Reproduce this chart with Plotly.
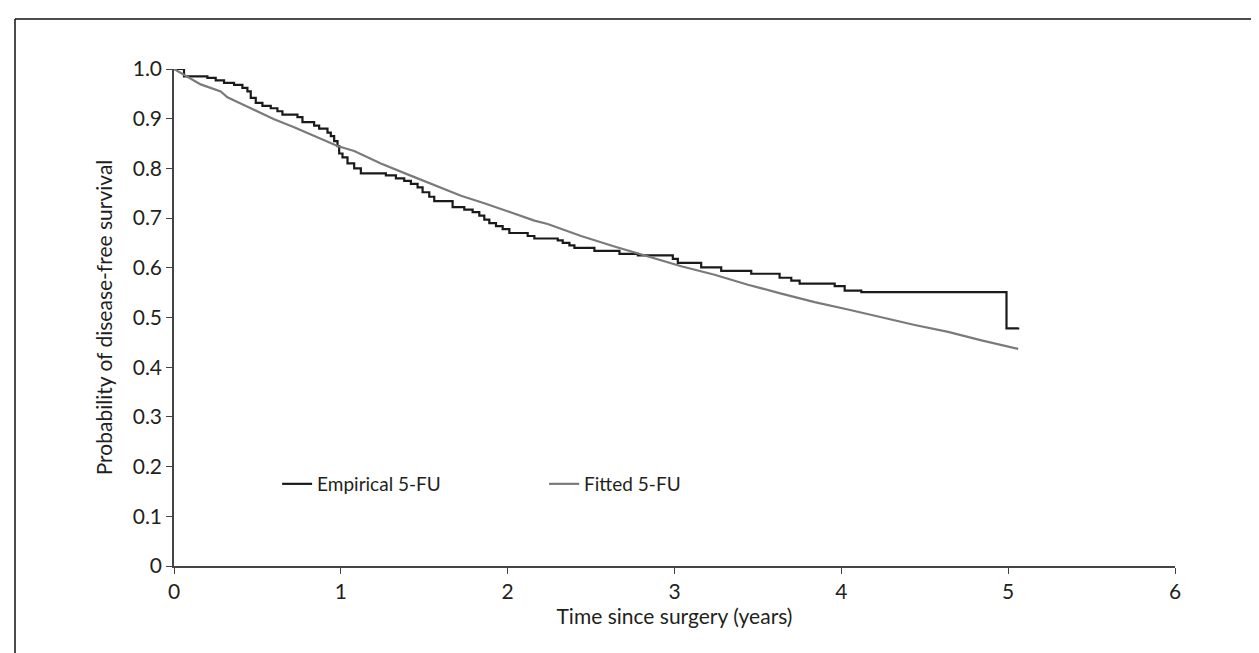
import plotly.graph_objects as go

# Empirical Kaplan-Meier (5-FU): event times (years) and survival after each step
emp_time = [0, 0.06, 0.20, 0.25, 0.30, 0.36, 0.41, 0.44, 0.46, 0.49, 0.53, 0.58, 0.62, 0.65,
            0.74, 0.77, 0.84, 0.87, 0.92, 0.94, 0.96, 0.98, 0.99, 1.01, 1.04, 1.08, 1.12,
            1.27, 1.33, 1.38, 1.42, 1.46, 1.49, 1.53, 1.56, 1.67, 1.74, 1.79, 1.83, 1.86,
            1.89, 1.93, 1.97, 2.01, 2.12, 2.16, 2.30, 2.33, 2.37, 2.40, 2.52, 2.67, 2.78,
            2.99, 3.02, 3.16, 3.28, 3.46, 3.63, 3.70, 3.75, 3.96, 4.02, 4.12, 4.99, 5.06]
emp_surv = [1.0, 0.985, 0.982, 0.977, 0.972, 0.968, 0.962, 0.955, 0.942, 0.932, 0.926, 0.921,
            0.915, 0.908, 0.903, 0.893, 0.886, 0.880, 0.872, 0.865, 0.855, 0.845, 0.830,
            0.822, 0.810, 0.800, 0.790, 0.786, 0.780, 0.775, 0.769, 0.762, 0.752, 0.743,
            0.734, 0.722, 0.717, 0.712, 0.705, 0.697, 0.690, 0.684, 0.678, 0.670, 0.664,
            0.659, 0.655, 0.650, 0.645, 0.640, 0.634, 0.628, 0.625, 0.618, 0.610, 0.601,
            0.594, 0.588, 0.580, 0.574, 0.568, 0.563, 0.554, 0.551, 0.478, 0.480]

# Fitted survival curve (5-FU)
fit_time = [0, 0.08, 0.16, 0.28, 0.32, 0.46, 0.60, 0.72, 0.84, 0.98, 1.08, 1.24, 1.40, 1.56,
            1.72, 1.86, 2.00, 2.16, 2.24, 2.44, 2.64, 2.84, 3.04, 3.24, 3.44, 3.64, 3.84,
            4.04, 4.24, 4.44, 4.64, 4.84, 5.06]
fit_surv = [1.0, 0.984, 0.969, 0.955, 0.943, 0.921, 0.899, 0.883, 0.865, 0.845, 0.835, 0.810,
            0.788, 0.767, 0.745, 0.730, 0.714, 0.695, 0.688, 0.664, 0.643, 0.623, 0.603,
            0.586, 0.566, 0.548, 0.531, 0.516, 0.500, 0.485, 0.471, 0.454, 0.437]

x_ticks = [0, 1, 2, 3, 4, 5, 6]
x_ticklabels = ["0", "1", "2", "3", "4", "5", "6"]
y_ticks = [0, 0.1, 0.2, 0.3, 0.4, 0.5, 0.6, 0.7, 0.8, 0.9, 1.0]
y_ticklabels = ["0", "0.1", "0.2", "0.3", "0.4", "0.5", "0.6", "0.7", "0.8", "0.9", "1.0"]

FONT = "Lato, 'Open Sans', sans-serif"
TXT = "#231f20"

fig = go.Figure()
fig.add_trace(go.Scatter(x=emp_time, y=emp_surv, mode="lines", name="Empirical 5-FU",
                         line=dict(color="#1a1a1a", width=2.2, shape="hv")))
fig.add_trace(go.Scatter(x=fit_time, y=fit_surv, mode="lines", name="Fitted 5-FU",
                         line=dict(color="#7a7a7a", width=2.2)))

W, H = 1259, 653
L, R, T, B = 166, 1167, 61, 558
fig.update_layout(
    width=W, height=H,
    margin=dict(l=L, r=W - R, t=T, b=H - B),
    paper_bgcolor="white", plot_bgcolor="white",
    font=dict(family=FONT, size=21, color=TXT),
    showlegend=True,
    legend=dict(orientation="h", x=0.103, y=0.165, xanchor="left", yanchor="middle",
                bgcolor="rgba(0,0,0,0)", font=dict(size=19, color=TXT),
                entrywidth=222, entrywidthmode="pixels", traceorder="normal"),
    xaxis=dict(range=[0, 6], tickvals=x_ticks, ticktext=x_ticklabels,
               showgrid=False, zeroline=False, showline=True, linecolor="#444", linewidth=1.5,
               ticks="outside", ticklen=6, tickcolor="#444", tickwidth=1.2,
               tickfont=dict(size=21, color=TXT),
               title=dict(text="Time since surgery (years)", font=dict(size=21, color=TXT), standoff=6)),
    yaxis=dict(range=[0, 1.0], tickvals=y_ticks, ticktext=y_ticklabels,
               showgrid=False, zeroline=False, showline=True, linecolor="#444", linewidth=1.5,
               ticks="outside", ticklen=6, tickcolor="#444", tickwidth=1.2,
               tickfont=dict(size=21, color=TXT),
               title=dict(text="Probability of disease-free survival", font=dict(size=21, color=TXT), standoff=14)),
)

# Frame lines (left and top) of the original figure box
px = lambda p: (p - L) / (R - L)
py = lambda p: (B - p) / (B - T)
fig.add_shape(type="line", xref="paper", yref="paper", x0=px(7), x1=px(1262), y0=py(11), y1=py(11),
              line=dict(color="#111", width=1.5))
fig.add_shape(type="line", xref="paper", yref="paper", x0=px(7), x1=px(7), y0=py(11), y1=py(656),
              line=dict(color="#111", width=1.5))

fig.write_html("out.html")
